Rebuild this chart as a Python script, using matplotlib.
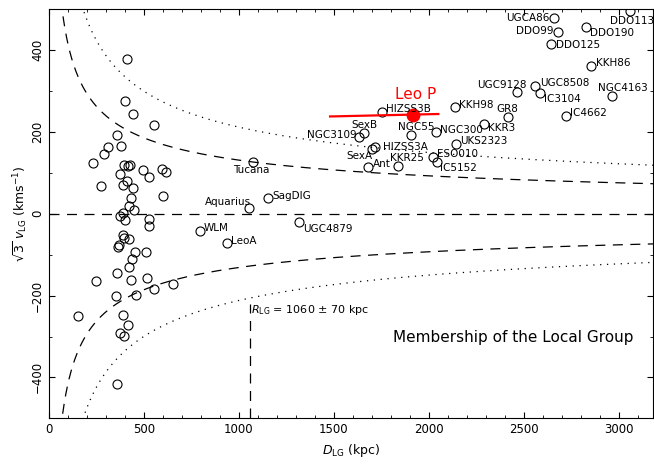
import numpy as np
import matplotlib
matplotlib.use("Agg")
import matplotlib.pyplot as plt

plt.rcParams['font.family'] = 'DejaVu Sans'
plt.rcParams['mathtext.fontset'] = 'dejavusans'

# galaxies with names: distance from LG barycentre (kpc), sqrt(3)*v_LG (km/s)
names = ['UGCA86', 'DDO99', 'DDO190', 'DDO125', 'DDO113', 'KKH86', 'UGC9128',
         'UGC8508', 'IC3104', 'NGC4163', 'IC4662', 'GR8', 'KKR3', 'HIZSS3B',
         'KKH98', 'NGC55', 'NGC300', 'UKS2323', 'SexB', 'NGC3109', 'HIZSS3A',
         'SexA', 'Ant', 'KKR25', 'ESO010', 'IC5152', 'Tucana', 'Aquarius',
         'SagDIG', 'WLM', 'LeoA', 'UGC4879']
d_named = [2658, 2679, 2826, 2642, 3058, 2853, 2463,
           2558, 2584, 2963, 2721, 2419, 2293, 1756,
           2139, 1907, 2040, 2142, 1660, 1633, 1716,
           1700, 1682, 1835, 2023, 2044, 1075, 1053,
           1154, 795, 938, 1317]
v_named = [479, 445, 457, 416, 497, 362, 298,
           313, 296, 287, 240, 236, 219, 248,
           262, 193, 201, 171, 198, 189, 164,
           159, 114, 116, 140, 126, 126, 15,
           38, -41, -71, -21]

# label placement: offset in pixels and horizontal alignment
lab_dx = [-4, -4, 4, 5, 2, 5, -15, 5, 4, 11, 4, -1, 4, 4,
          4, 5, 4, 4, 0, -3, 8, 1, 4, 9, 4, 3, -2, 2,
          4, 4, 4, 4]
lab_dy = [0, 1, -6, -1, -10, 3, 7, 3, -6, 8, 3, 8, -4, 3,
          2, 8, 2, 3, 8, 2, 0, -7, 3, 8, 3, -6, -8, 6,
          2, 3, 2, -7]
lab_ha = ['right', 'right', 'left', 'left', 'center', 'left', 'center',
          'left', 'left', 'center', 'left', 'center', 'left', 'left',
          'left', 'center', 'left', 'left', 'center', 'right', 'left',
          'right', 'left', 'center', 'left', 'left', 'center', 'right',
          'left', 'left', 'left', 'left']

# Local Group members (unlabelled)
d_lg = [409, 400, 444, 551, 360, 312, 377, 289, 232, 396, 414, 428, 493, 593,
        617, 374, 526, 274, 388, 413, 440, 602, 431, 419, 449, 388, 374, 402,
        528, 528, 391, 395, 421, 368, 363, 454, 511, 437, 421, 358, 433, 514,
        246, 354, 458, 554, 651, 151, 388, 414, 374, 395, 360]
v_lg = [378, 276, 245, 216, 193, 164, 167, 146, 123, 119, 116, 119, 107, 110,
        103, 97, 91, 69, 70, 80, 63, 44, 38, 20, 10, 1, -6, -15,
        -13, -29, -51, -58, -61, -76, -81, -93, -94, -111, -129, -144, -162, -157,
        -164, -202, -198, -185, -171, -250, -248, -271, -291, -298, -417]

# Leo P and its distance range
leop_d = 1917
leop_v = 241
leop_dist_range = [1480, 2050]
leop_v_range = [238, 244]

# zero-energy curves v = k / sqrt(D)
k_inner = 4150
k_outer = 6700
r_lg = 1060

fig = plt.figure(figsize=(6.54, 4.65), dpi=100)
ax = fig.add_axes([0.0749, 0.1004, 0.9235, 0.8796])

D = np.linspace(20, 3300, 2000)
dash = (0, (8, 6))
dot = (0, (1, 4.5))
for s in (1, -1):
    ax.plot(D, s * k_inner / np.sqrt(D), color='k', lw=0.9, linestyle=dash)
    ax.plot(D, s * k_outer / np.sqrt(D), color='k', lw=0.9, linestyle=dot)
ax.axhline(0, color='k', lw=0.9, linestyle=dash)
ax.plot([r_lg, r_lg], [-500, -220], color='k', lw=0.9, linestyle=dash)

ax.plot(d_lg, v_lg, 'o', mfc='none', mec='k', ms=6.5, mew=0.8)
ax.plot(d_named, v_named, 'o', mfc='none', mec='k', ms=6.5, mew=0.8)
for n, d, v, dx, dy, ha in zip(names, d_named, v_named, lab_dx, lab_dy, lab_ha):
    ax.annotate(n, (d, v), xytext=(dx, dy), textcoords='offset pixels',
                ha=ha, va='center', fontsize=7.5)

ax.plot(leop_dist_range, leop_v_range, color='red', lw=1.6)
ax.plot(leop_d, leop_v, 'o', color='red', ms=9)
ax.annotate('Leo P', (leop_d, leop_v), xytext=(3, 21), textcoords='offset pixels',
            ha='center', va='center', fontsize=11, color='red')

ax.text(1063, -236, r'$R_{\rm LG}$ = 1060 $\pm$ 70 kpc', fontsize=8,
        ha='left', va='center')
ax.text(1811, -302, 'Membership of the Local Group', fontsize=11,
        ha='left', va='center')

ax.set_xlim(0, 3180)
ax.set_ylim(-500, 500)
ax.set_xticks(np.arange(0, 3001, 500))
ax.set_xticks(np.arange(0, 3181, 100), minor=True)
ax.set_yticks(np.arange(-400, 401, 200))
ax.set_yticks(np.arange(-500, 501, 100), minor=True)
ax.tick_params(which='both', direction='in', top=True, right=True, labelsize=8.5)
ax.tick_params(which='major', length=4)
ax.tick_params(which='minor', length=2)
ax.tick_params(axis='y', labelrotation=90)
for lbl in ax.get_yticklabels():
    lbl.set_va('center')

ax.set_xlabel(r'$D_{\rm LG}$ (kpc)', fontsize=9, labelpad=4)
ax.set_ylabel(r'$\sqrt{3}\ v_{\rm LG}\ ({\rm kms}^{-1})$', fontsize=9, labelpad=1)

fig.savefig('out.png', dpi=100)
